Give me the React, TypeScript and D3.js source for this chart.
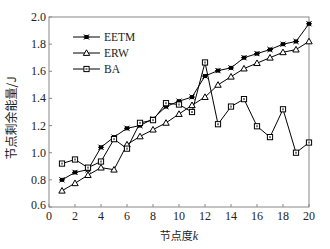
import React from "react";
import * as d3 from "d3";

const degrees = d3.range(1, 21);
const eetm = [0.80, 0.855, 0.875, 1.04, 1.115, 1.18, 1.20, 1.25, 1.34, 1.38, 1.41, 1.565, 1.605, 1.625, 1.70, 1.73, 1.76, 1.80, 1.82, 1.95];
const erw = [0.72, 0.775, 0.835, 0.89, 0.875, 1.06, 1.12, 1.17, 1.22, 1.285, 1.35, 1.41, 1.50, 1.56, 1.62, 1.66, 1.70, 1.74, 1.76, 1.82];
const ba = [0.92, 0.95, 0.89, 0.935, 1.10, 1.03, 1.22, 1.24, 1.365, 1.355, 1.30, 1.665, 1.21, 1.34, 1.395, 1.195, 1.115, 1.32, 1.00, 1.075];
const xTicks = [0, 2, 4, 6, 8, 10, 12, 14, 16, 18, 20];
const yTicks = [0.6, 0.8, 1.0, 1.2, 1.4, 1.6, 1.8, 2.0];
const seriesNames = ["EETM", "ERW", "BA"];

const W = 330, H = 249;
const m = { left: 49, right: 21, top: 17, bottom: 42 };
const serif = "'Liberation Serif', 'DejaVu Serif', serif";
const cjk = "'Noto Sans CJK SC', sans-serif";

function Marker({ kind, x, y }: { kind: string; x: number; y: number }) {
  if (kind === "EETM") {
    const s = 2.6;
    return (
      <g>
        <rect x={x - 2} y={y - 2} width={4} height={4} fill="#000" />
        <line x1={x - s} y1={y - s} x2={x + s} y2={y + s} stroke="#000" strokeWidth={1} />
        <line x1={x - s} y1={y + s} x2={x + s} y2={y - s} stroke="#000" strokeWidth={1} />
        <line x1={x - 3} y1={y} x2={x + 3} y2={y} stroke="#000" strokeWidth={1} />
      </g>
    );
  }
  if (kind === "ERW") {
    const r = 3.2;
    return (
      <path d={`M${x},${y - r} L${x + r},${y + r * 0.75} L${x - r},${y + r * 0.75} Z`} fill="#fff" stroke="#000" strokeWidth={1} />
    );
  }
  return (
    <g>
      <rect x={x - 2.6} y={y - 2.6} width={5.2} height={5.2} fill="#fff" stroke="#000" strokeWidth={1} />
      <rect x={x - 1} y={y - 1} width={2} height={2} fill="#777" />
    </g>
  );
}

export default function App() {
  const x = d3.scaleLinear().domain([0, 20]).range([m.left, W - m.right]);
  const y = d3.scaleLinear().domain([0.6, 2.0]).range([H - m.bottom, m.top]);
  const line = d3.line<number>().x((_, i) => x(degrees[i])).y((d) => y(d));
  const data = [eetm, erw, ba];
  const legendY = [37, 53, 69];

  return (
    <svg width={W} height={H} style={{ position: "absolute", left: 0, top: 0, background: "#fff" }}>
      <rect x={m.left} y={m.top} width={W - m.left - m.right} height={H - m.top - m.bottom} fill="none" stroke="#888" strokeWidth={1} />
      {xTicks.map((t) => (
        <g key={"x" + t}>
          <line x1={x(t)} x2={x(t)} y1={y(0.6)} y2={y(0.6) - 3} stroke="#888" />
          <text x={x(t)} y={y(0.6) + 13} textAnchor="middle" fontFamily={serif} fontSize={12} fill="#222">{t}</text>
        </g>
      ))}
      {yTicks.map((t) => (
        <g key={"y" + t}>
          <line x1={m.left} x2={m.left + 3} y1={y(t)} y2={y(t)} stroke="#888" />
          <text x={m.left - 3} y={y(t) + (t === 0.6 ? 2 : 4)} textAnchor="end" fontFamily={serif} fontSize={12} fill="#222">{t.toFixed(1)}</text>
        </g>
      ))}
      {data.map((d, si) => (
        <path key={"l" + si} d={line(d) || ""} fill="none" stroke="#000" strokeWidth={1} />
      ))}
      {data.map((d, si) =>
        d.map((v, i) => <Marker key={si + "-" + i} kind={seriesNames[si]} x={x(degrees[i])} y={y(v)} />)
      )}
      {seriesNames.map((n, i) => (
        <g key={"lg" + n}>
          <line x1={73} x2={100} y1={legendY[i]} y2={legendY[i]} stroke="#000" strokeWidth={1} />
          <Marker kind={n} x={86.5} y={legendY[i]} />
          <text x={104} y={legendY[i] + 4} fontFamily={serif} fontSize={11.5} fill="#222">{n}</text>
        </g>
      ))}
      <text x={(m.left + W - m.right) / 2} y={240} textAnchor="middle" fontFamily={cjk} fontSize={11} fill="#222">
        节点度<tspan fontFamily={serif} fontStyle="italic" fontSize={12}>k</tspan>
      </text>
      <text transform={`translate(16, ${(m.top + H - m.bottom) / 2 + 6}) rotate(-90)`} textAnchor="middle" fontFamily={cjk} fontSize={12} fill="#222">
        节点剩余能量/J
      </text>
    </svg>
  );
}
